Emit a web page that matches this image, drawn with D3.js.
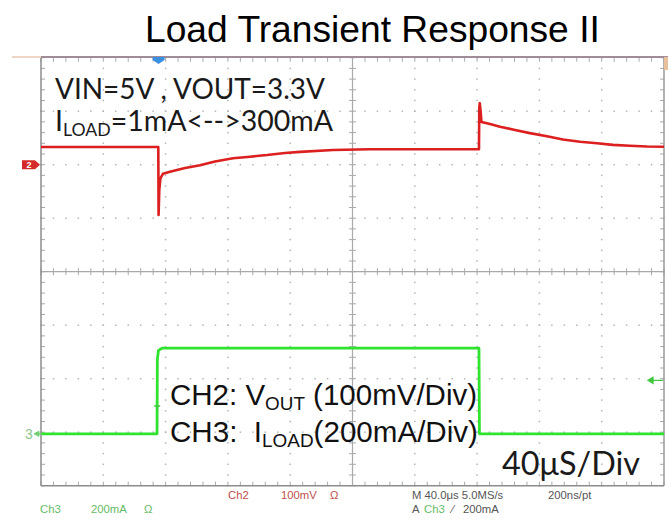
<!DOCTYPE html>
<html>
<head>
<meta charset="utf-8">
<script src="https://cdn.jsdelivr.net/npm/d3@7"></script>
<style>
  html, body { margin: 0; padding: 0; background: #fff; }
  svg { display: block; }
</style>
</head>
<body>
<div id="chart"></div>
<script>
// CH2: output voltage deviation (mV, 100 mV/div) vs time (µs, 40 µs/div)
const ch2Time = [0, 75.3, 75.5, 75.95, 76.7, 78.3, 82.8, 92.5, 102.1, 111.7, 123.3, 134.2, 145.1, 156.7, 166.3, 187.5, 211.2, 281.2,
  281.4, 281.7, 282.2, 282.8, 288.3, 294.7, 304.3, 313.9, 324.9, 335.1, 346.1, 357.0, 367.2, 378.1, 389.1, 400];
const ch2Mv = [33, 33, -94, -47, -25, -17, -13, -6, -1, 6, 12, 15, 18, 22, 24, 27.5, 29, 29,
  106, 115, 102, 80, 76, 71, 65, 59, 53, 47, 43, 40, 37, 35.5, 34, 33.5];

// CH3: load current (mA, 200 mA/div)
const ch3Time = [0, 74.5, 74.7, 75.4, 77.7, 281.2, 281.5, 400];
const ch3Ma = [0, 0, 277, 312, 320, 320, 0, 0];

const ch2Offset = 2;      // marker position, divisions above center
const ch3Offset = -3.03;
const triggerMa = 200;

const width = 671, height = 520;
const svg = d3.select("#chart").append("svg")
  .attr("width", width).attr("height", height)
  .attr("viewBox", [0, 0, width, height]);

const x = d3.scaleLinear().domain([0, 400]).range([41, 664]);
const yDiv = d3.scaleLinear().domain([-4, 4]).range([485.7, 57.7]);
const yCh2 = mv => yDiv(mv / 100 + ch2Offset);
const yCh3 = ma => yDiv(ma / 200 + ch3Offset);

function fit(sel, w) {
  const node = sel.node();
  const cur = parseFloat(sel.style("font-size"));
  const len = node.getComputedTextLength();
  sel.style("font-size", (cur * w / len).toFixed(2) + "px");
}
const humanist = "Lato, 'Open Sans', sans-serif";
const arial = "'Liberation Sans', Arial, sans-serif";

// title
const title = svg.append("text")
  .attr("x", 145).attr("y", 42)
  .style("font-family", arial)
  .style("font-size", "30px")
  .text("Load Transient Response II");
fit(title, 455);

// ---- graticule ----
const grid = svg.append("g");
const gridColor = "#a9a9a9";
const xMinor = d3.range(0, 50.01).map(i => x(i * 8));
const yMinor = d3.range(-4, 4.01, 0.2);

// dotted division lines
for (let i = 1; i < 10; i++) {
  if (i === 5) continue;
  grid.append("g").selectAll("rect").data(yMinor).join("rect")
    .attr("x", x(i * 40) - 0.75).attr("y", d => yDiv(d) - 0.75)
    .attr("width", 1.5).attr("height", 1.5).attr("fill", "#b5b5b5");
}
for (let j = -3; j <= 3; j++) {
  if (j === 0) continue;
  grid.append("g").selectAll("rect").data(xMinor).join("rect")
    .attr("x", d => d - 0.75).attr("y", yDiv(j) - 0.75)
    .attr("width", 1.5).attr("height", 1.5).attr("fill", "#b5b5b5");
}

// center cross with ticks
grid.append("line").attr("x1", x(0)).attr("x2", x(400)).attr("y1", yDiv(0)).attr("y2", yDiv(0))
  .attr("stroke", gridColor).attr("stroke-width", 1.2);
grid.append("line").attr("x1", x(200)).attr("x2", x(200)).attr("y1", yDiv(-4)).attr("y2", yDiv(4))
  .attr("stroke", gridColor).attr("stroke-width", 1.2);
grid.append("g").selectAll("line").data(xMinor).join("line")
  .attr("x1", d => d).attr("x2", d => d)
  .attr("y1", yDiv(0) - 3.5).attr("y2", yDiv(0) + 3.5)
  .attr("stroke", gridColor);
grid.append("g").selectAll("line").data(yMinor).join("line")
  .attr("x1", x(200) - 3.5).attr("x2", x(200) + 3.5)
  .attr("y1", d => yDiv(d)).attr("y2", d => yDiv(d))
  .attr("stroke", gridColor);

// frame ticks
grid.append("g").selectAll("line").data(yMinor).join("line")
  .attr("x1", x(0)).attr("x2", x(0) + 4)
  .attr("y1", d => yDiv(d)).attr("y2", d => yDiv(d)).attr("stroke", gridColor);
grid.append("g").selectAll("line").data(yMinor).join("line")
  .attr("x1", x(400)).attr("x2", x(400) - 4)
  .attr("y1", d => yDiv(d)).attr("y2", d => yDiv(d)).attr("stroke", gridColor);
grid.append("g").selectAll("line").data(xMinor).join("line")
  .attr("x1", d => d).attr("x2", d => d)
  .attr("y1", yDiv(-4)).attr("y2", yDiv(-4) - 4).attr("stroke", gridColor);
grid.append("g").selectAll("line").data(xMinor).join("line")
  .attr("x1", d => d).attr("x2", d => d)
  .attr("y1", yDiv(4)).attr("y2", yDiv(4) + 4).attr("stroke", gridColor);

// frame
grid.append("line").attr("x1", x(0)).attr("x2", x(0)).attr("y1", yDiv(4)).attr("y2", yDiv(-4))
  .attr("stroke", "#8c8c8c").attr("stroke-width", 1.5);
grid.append("line").attr("x1", x(400)).attr("x2", x(400)).attr("y1", yDiv(4)).attr("y2", yDiv(-4))
  .attr("stroke", "#9a9a9a").attr("stroke-width", 1.5);
grid.append("line").attr("x1", x(0)).attr("x2", x(400)).attr("y1", yDiv(-4)).attr("y2", yDiv(-4))
  .attr("stroke", "#8c8c8c").attr("stroke-width", 1.5);
// top edge of the screen capture
svg.append("line").attr("x1", 12).attr("x2", x(0)).attr("y1", 57).attr("y2", 57)
  .attr("stroke", "#efd6c4").attr("stroke-width", 2);
svg.append("line").attr("x1", x(0)).attr("x2", 668).attr("y1", 57).attr("y2", 57)
  .attr("stroke", "#a08c98").attr("stroke-width", 2);
svg.append("rect").attr("x", 664).attr("y", 57).attr("width", 4).attr("height", 13)
  .attr("fill", "#e9c09c");

// trigger position marker
svg.append("path")
  .attr("d", `M${x(75.5) - 6},57 h12 v3 l-6,4 l-6,-4 z`)
  .attr("fill", "#3b8fe0");

// ---- traces ----
const line = d3.line().x(d => x(d[0])).y(d => d[1]);

svg.append("path")
  .datum(ch3Time.map((t, i) => [t, yCh3(ch3Ma[i])]))
  .attr("d", line)
  .attr("fill", "none")
  .attr("stroke", "#2fe32f")
  .attr("stroke-width", 2.8)
  .attr("stroke-linejoin", "round");

svg.append("path")
  .datum(ch2Time.map((t, i) => [t, yCh2(ch2Mv[i])]))
  .attr("d", line)
  .attr("fill", "none")
  .attr("stroke", "#dc1f1f")
  .attr("stroke-width", 2.6)
  .attr("stroke-linejoin", "round");

// channel markers
const m2 = yCh2(0);
svg.append("path")
  .attr("d", `M22,${m2 - 4.5} h13 l5,4.5 l-5,4.5 h-13 z`)
  .attr("fill", "#d42a2a");
svg.append("text").attr("x", 29).attr("y", m2 + 3.5).attr("text-anchor", "middle")
  .style("font-family", arial).style("font-size", "9px")
  .style("font-weight", "bold").attr("fill", "#fff").text("2");

const m3 = yCh3(0);
svg.append("text").attr("x", 25).attr("y", m3 + 5)
  .style("font-family", arial).style("font-size", "14px")
  .attr("fill", "#8cc48c").text("3");
svg.append("path").attr("d", `M34,${m3} l5,-2.5 v5 z M37,${m3} H42`)
  .attr("fill", "#6fd06f").attr("stroke", "#6fd06f");

// trigger marker on rising edge and trigger level arrow
const tT = yCh3(triggerMa * 0.52);
svg.append("path").attr("d", `M${x(74.6) - 3},${tT} h6 M${x(74.6)},${tT} v4`)
  .attr("stroke", "#3ec83e").attr("stroke-width", 1.4).attr("fill", "none");
const tl = yCh3(triggerMa);
svg.append("path").attr("d", `M648,${tl} l5,-3 v6 z M651,${tl} H663`)
  .attr("fill", "#3ec83e").attr("stroke", "#3ec83e").attr("stroke-width", 1.3);

// ---- annotations ----
const t1 = svg.append("text").attr("x", 55).attr("y", 99)
  .style("font-family", humanist).style("font-size", "27px").attr("fill", "#1a1a1a")
  .text("VIN=5V , VOUT=3.3V");
fit(t1, 270);

const t2 = svg.append("text").attr("x", 55).attr("y", 131)
  .style("font-family", humanist).style("font-size", "27px").attr("fill", "#1a1a1a");
t2.append("tspan").text("I");
t2.append("tspan").attr("dy", 5).style("font-size", "0.62em").text("LOAD");
t2.append("tspan").attr("dy", -5).text("=1mA<-->300mA");
fit(t2, 278);

const t3 = svg.append("text").attr("x", 170).attr("y", 405)
  .style("font-family", arial).style("font-size", "29px").attr("fill", "#111");
t3.append("tspan").text("CH2: V");
t3.append("tspan").attr("dy", 5).style("font-size", "0.64em").text("OUT");
t3.append("tspan").attr("dy", -5).text(" (100mV/Div)");
fit(t3, 307);

const t4 = svg.append("text").attr("x", 170).attr("y", 442)
  .style("font-family", arial).style("font-size", "29px").attr("fill", "#111")
  .style("white-space", "pre");
t4.append("tspan").text("CH3:\u00a0\u00a0I");
t4.append("tspan").attr("dy", 5).style("font-size", "0.64em").text("LOAD");
t4.append("tspan").attr("dy", -5).text("(200mA/Div)");
fit(t4, 308);

const t5 = svg.append("text").attr("x", 502).attr("y", 475)
  .style("font-family", humanist).style("font-size", "27px").attr("fill", "#1a1a1a")
  .text("40μS/Div");
fit(t5, 138);

// ---- scope status line ----
const small = "'Liberation Sans Narrow', 'Liberation Sans', Arial, sans-serif";
const status = [
  { x: 228, y: 499, text: "Ch2", color: "#c0504d" },
  { x: 281, y: 499, text: "100mV", color: "#c0504d" },
  { x: 330, y: 499, text: "Ω", color: "#c0504d" },
  { x: 412, y: 499, text: "M 40.0μs 5.0MS/s", color: "#555" },
  { x: 548, y: 499, text: "200ns/pt", color: "#555" },
  { x: 40, y: 513, text: "Ch3", color: "#66bb66" },
  { x: 91, y: 513, text: "200mA", color: "#66bb66" },
  { x: 144, y: 513, text: "Ω", color: "#66bb66" },
  { x: 412, y: 513, text: "A", color: "#555" },
  { x: 424, y: 513, text: "Ch3", color: "#66bb66" },
  { x: 452, y: 513, text: "⁄", color: "#555" },
  { x: 463, y: 513, text: "200mA", color: "#555" }
];
svg.append("g").selectAll("text").data(status).join("text")
  .attr("x", d => d.x).attr("y", d => d.y)
  .style("font-family", small).style("font-size", "11.3px")
  .attr("fill", d => d.color)
  .text(d => d.text);
</script>
</body>
</html>
